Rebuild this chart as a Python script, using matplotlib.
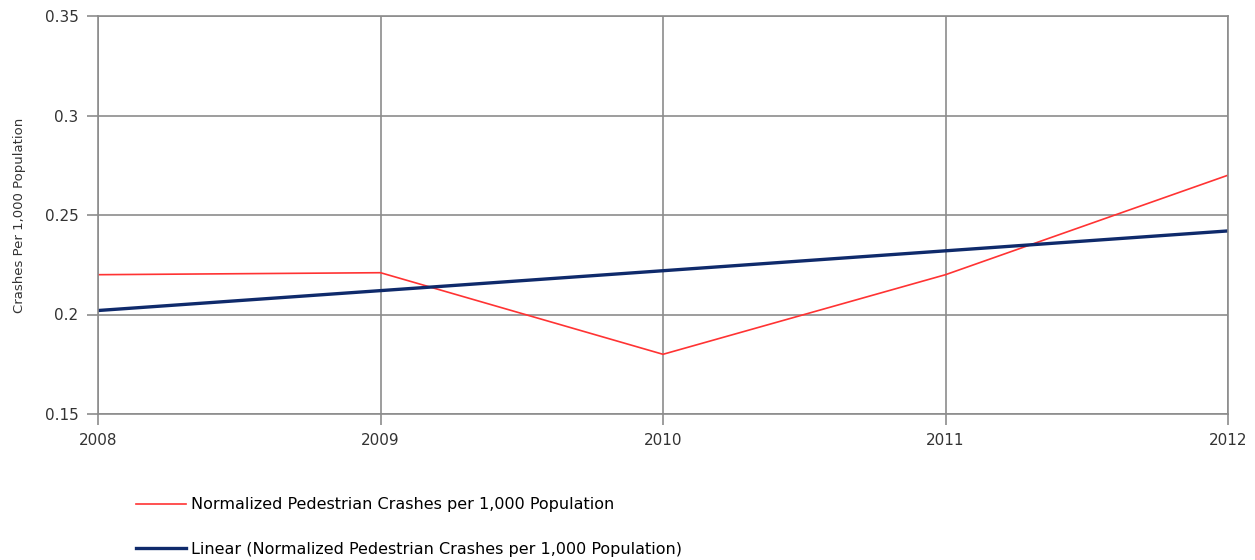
import matplotlib.pyplot as plt

plt.rcParams['font.family'] = ['DejaVu Sans']

# data
years = [2008, 2009, 2010, 2011, 2012]
crashes = [0.220, 0.221, 0.180, 0.220, 0.270]
trend = [0.202, 0.212, 0.222, 0.232, 0.242]
yticks = [0.15, 0.2, 0.25, 0.3, 0.35]
ytick_labels = ['0.15', '0.2', '0.25', '0.3', '0.35']

grid_col = '#8c8c8c'

fig = plt.figure(figsize=(12.55, 5.6), dpi=100)
ax = fig.add_axes([98/1255, 1 - 414/560, (1228-98)/1255, (414-16)/560])

l1, = ax.plot(years, crashes, color='#ff3333', lw=1.2,
              label='Normalized Pedestrian Crashes per 1,000 Population')
l2, = ax.plot(years, trend, color='#0f2a6b', lw=2.4,
              label='Linear (Normalized Pedestrian Crashes per 1,000 Population)')

ax.set_xlim(2008, 2012)
ax.set_ylim(0.15, 0.35)
ax.set_xticks(years)
ax.set_xticklabels([str(y) for y in years])
ax.set_yticks(yticks)
ax.set_yticklabels(ytick_labels)
ax.grid(True, color=grid_col, lw=1.2)
ax.set_axisbelow(True)
for s in ax.spines.values():
    s.set_color(grid_col)
    s.set_linewidth(1.2)
ax.tick_params(axis='both', colors=grid_col, labelcolor='#333333', labelsize=11, length=8, width=1.2)
ax.tick_params(axis='x', pad=6)
ax.tick_params(axis='y', pad=6)

ax.set_ylabel('Crashes Per 1,000 Population', fontsize=9.5, color='#333333')
ax.yaxis.set_label_coords(-72/1130, 0.5)

fig.legend(handles=[l1, l2], loc='upper left', bbox_to_anchor=(130/1255, 1 - 491/560),
           frameon=False, fontsize=11.5, handlelength=3.1, handletextpad=0.3,
           labelspacing=1.85, borderaxespad=0)

fig.savefig('out.png', dpi=100)
